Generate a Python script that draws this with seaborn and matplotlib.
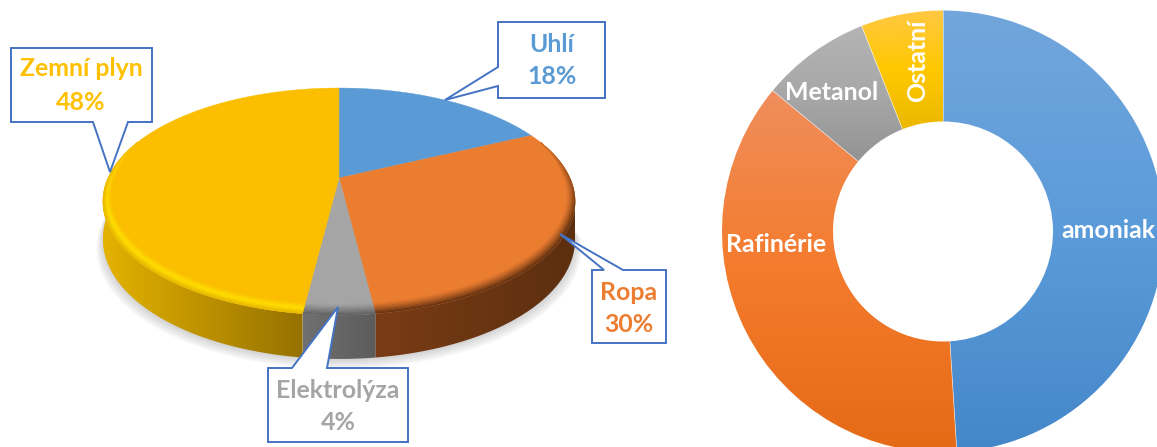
import numpy as np
import seaborn as sns
import matplotlib
matplotlib.use("Agg")
import matplotlib.pyplot as plt
from matplotlib.colors import LinearSegmentedColormap
from matplotlib.patches import Polygon
from matplotlib.collections import PolyCollection

# ---------- data ----------
pie_labels = ["Uhlí", "Ropa", "Elektrolýza", "Zemní plyn"]
pie_values = [18, 30, 4, 48]
donut_labels = ["amoniak", "Rafinérie", "Metanol", "Ostatní"]
donut_values = [49, 37, 8, 6]

sns.set_theme(style="white")
plt.rcParams["font.family"] = ["Lato", "DejaVu Sans"]

W, H = 1157, 447
fig = plt.figure(figsize=(W / 100, H / 100), dpi=100)
ax = fig.add_axes([0, 0, 1, 1])

face = sns.color_palette(["#5B9BD5", "#EB7D31", "#A5A5A5", "#FBBE00"])
txt_col = ["#5B9BD5", "#ED7D31", "#A5A5A5", "#FFC000"]
side_l = [(.2, .35, .5), (122/255, 60/255, 22/255), (112/255,)*3, (228/255, 178/255, 0)]
side_r = [(.2, .35, .5), (92/255, 47/255, 15/255), (92/255,)*3, (150/255, 113/255, 0)]
bright = np.array((255, 222, 0)) / 255

# projection of the tilted disc, in pixel coordinates
CX, CY, CW, A, B = 339.0, 178.0, 231.0, 108.6, 0.207
def disc(t, r=1.0):
    t = np.asarray(t)
    w = 1 + B * r * np.sin(t)
    return CX + CW * r * np.cos(t) / w, CY - A * r * np.sin(t) / w
def up(py):
    return H - np.asarray(py)
def depth(t):
    return 36 + 8 * np.clip(-np.sin(t), 0, 1)
def bevel(t):
    fade = np.clip((0.35 - np.sin(t)) / 0.3, 0, 1)
    return (0.03 + 0.04 * np.clip(-np.sin(t), 0, 1)) * fade

edges = np.pi / 2 - 2 * np.pi * np.concatenate([[0], np.cumsum(pie_values)]) / sum(pie_values)
sil = np.arcsin(B)
T0, T1 = -np.pi - sil, -sil  # front silhouette of the disc

# soft shadow under the disc
ts = np.linspace(T0 - .1, T1 + .1, 200)
for k in range(10):
    x, y = disc(ts)
    grow = 1 + k * 0.003
    ax.fill(CX + (x - CX) * grow, up(y + depth(ts) + 1 + k * 1.0),
            color="#8a8a8a", alpha=0.04, lw=0, zorder=1)

# top face
for i in range(len(pie_values)):
    tt = np.linspace(edges[i], edges[i + 1], 200)
    x, y = disc(tt)
    ax.fill(np.r_[CX, x], up(np.r_[CY, y]), color=face[i], ec=face[i], lw=0.3, zorder=4)

# side wall, shaded from left to right inside every slice
for i in range(len(pie_values)):
    hi, lo = edges[i], edges[i + 1]
    hi2 = hi if hi <= T1 else T1
    lo2 = lo if lo >= T0 else T0
    if i == 0 or lo2 >= hi2:
        continue
    tt = np.linspace(lo2, hi2, 200)
    x, y = disc(tt)
    pts = np.c_[np.r_[x, x[::-1]], up(np.r_[y, (y + depth(tt))[::-1]])]
    pg = Polygon(pts, closed=True, fc="none", ec="none", zorder=2)
    ax.add_patch(pg)
    cm = LinearSegmentedColormap.from_list("s", [side_l[i], side_r[i]])
    im = ax.imshow(np.linspace(0, 1, 256)[None, :], cmap=cm, aspect="auto",
                   extent=(x.min(), x.max(), pts[:, 1].min(), pts[:, 1].max()),
                   origin="lower", zorder=2)
    im.set_clip_path(pg)

# bevelled rim drawn on the face edge; its strength grows towards the viewer
nb = 10
for i in range(1, len(pie_values)):
    tt = np.linspace(edges[i + 1], edges[i], 160)
    tt = tt[np.sin(tt) < 0.35]
    if len(tt) < 2:
        continue
    w = bevel(tt)
    xm = disc(tt)[0]
    f0 = (xm.mean() - xm.min()) / max(xm.max() - xm.min(), 1)
    dark = np.array(side_l[i]) * (1 - f0) + np.array(side_r[i]) * f0
    base = np.array(face[i])
    quads, cols = [], []
    for k in range(nb):
        f = k / (nb - 1)
        x1, y1 = disc(tt, 1 - w * (1 - k / nb))
        x2, y2 = disc(tt, 1 - w * (1 - (k + 1) / nb))
        for j in range(len(tt) - 1):
            s = np.clip((0.35 - np.sin(tt[j])) / 0.75, 0, 1)
            if i == 3:
                target = bright if f <= .6 else bright * (1 - (f - .6) / .4 * .8) + np.array(side_l[i]) * (f - .6) / .4 * .8
                m = min(f / .5, 1) * (0.45 + 0.55 * s)
            else:
                target, m = dark, f ** 1.3 * (0.2 + 0.8 * s)
            cols.append(tuple(base * (1 - m) + target * m))
            quads.append(np.c_[[x1[j], x1[j + 1], x2[j + 1], x2[j]],
                               up([y1[j], y1[j + 1], y2[j + 1], y2[j]])])
    ax.add_collection(PolyCollection(quads, facecolors=cols, edgecolors=cols, linewidths=0.25, zorder=5))

# callouts
BLUE = "#4472C4"
callouts = [
    [(498, 22), (605, 22), (605, 98), (498, 98), (498, 86), (445, 100), (498, 67)],
    [(592, 270), (604, 270), (560, 234), (623, 270), (666, 270), (666, 343), (592, 343)],
    [(268, 368), (292, 368), (338, 307), (327, 368), (408, 368), (408, 442), (268, 442)],
    [(11, 48), (152, 48), (152, 122), (128, 122), (110, 172), (93, 122), (11, 122)],
]
for poly in callouts:
    p = np.array(poly, float)
    ax.fill(p[:, 0], up(p[:, 1]), fc="white", ec=BLUE, lw=1.4, joinstyle="miter", zorder=6)

label_pos = [(552, 45, 77), (629, 293, 324), (338, 390, 423), (81, 69, 103)]
for i, (x, y1, y2) in enumerate(label_pos):
    kw = dict(color=txt_col[i], fontweight="bold", fontsize=17.9, ha="center", va="center", zorder=7)
    ax.text(x, up(y1), pie_labels[i], **kw)
    ax.text(x, up(y2), f"{pie_values[i]}%", **kw)

# donut
DX, DY, R, HOLE = 943, 231.5, 221, 110
wedges, _ = ax.pie(donut_values, startangle=90, counterclock=False, radius=R,
                   center=(DX, up(DY)), colors=["#5B9BD5", "#F47B2C", "#A5A5A5", "#FFC000"],
                   wedgeprops=dict(width=R - HOLE, lw=0.6, ec="white"))
ax.set_aspect("auto")
ax.set_xlim(0, W)
ax.set_ylim(0, H)
grads = [
    ["#72A6DC", "#5B9BD9", "#4487C9"],
    ["#F08E5C", "#F47B2C", "#E56A16"],
    ["#B4B4B4", "#A8A8A8", "#939393"],
    ["#FFC843", "#FFC800", "#EBB800"],
]
for wd, g in zip(wedges, grads):
    wd.set_zorder(4)
    bb = ax.transData.inverted().transform_bbox(wd.get_window_extent())
    cmap = LinearSegmentedColormap.from_list("g", g)
    im = ax.imshow(np.linspace(1, 0, 256)[:, None], cmap=cmap, aspect="auto", vmin=0, vmax=1,
                   extent=(bb.x0, bb.x1, bb.y0, bb.y1), origin="lower", zorder=5)
    im.set_clip_path(wd)
    wd.set_facecolor("none")
ax.set_xlim(0, W)
ax.set_ylim(0, H)

# seams between donut wedges
ang = np.pi / 2 - 2 * np.pi * np.concatenate([[0], np.cumsum(donut_values)[:-1]]) / sum(donut_values)
for t in ang:
    ax.plot([DX + HOLE * np.cos(t), DX + R * np.cos(t)],
            [up(DY) + HOLE * np.sin(t), up(DY) + R * np.sin(t)], color="white", lw=0.5, alpha=.7, zorder=6)

donut_pos = [(1108, 230, 0), (776, 245, 0), (832, 92, 0), (918, 61, 90)]
for lab, (x, y, rot) in zip(donut_labels, donut_pos):
    ax.text(x, up(y), lab, color="white", fontweight="bold", fontsize=17.9,
            ha="center", va="center", rotation=rot, zorder=7)

ax.set_axis_off()
fig.savefig("out.png", dpi=100, facecolor="white")
